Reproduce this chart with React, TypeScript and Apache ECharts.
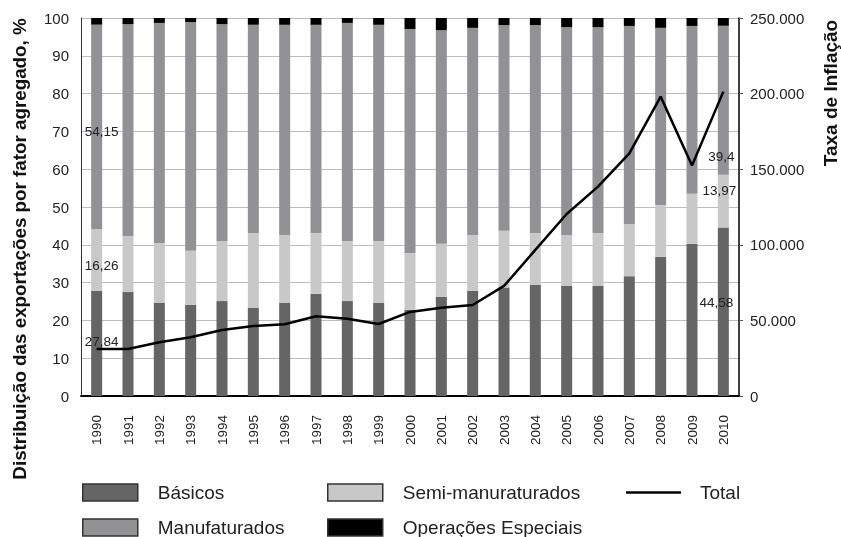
import React, { useEffect, useRef } from "react";
import * as echarts from "echarts";

const years = ["1990","1991","1992","1993","1994","1995","1996","1997","1998","1999","2000","2001","2002","2003","2004","2005","2006","2007","2008","2009","2010"];
const basicos = [27.84, 27.5, 24.6, 24.1, 25.1, 23.3, 24.6, 27.0, 25.1, 24.6, 22.8, 26.2, 27.8, 28.7, 29.4, 29.1, 29.1, 31.7, 36.8, 40.3, 44.58];
const semi = [16.26, 14.8, 15.9, 14.3, 15.9, 19.8, 18.0, 16.1, 15.9, 16.4, 15.0, 14.1, 14.8, 15.0, 13.7, 13.5, 14.0, 13.8, 13.7, 13.2, 13.97];
const manuf = [54.15, 56.1, 58.2, 60.5, 57.4, 55.1, 55.6, 55.1, 57.7, 57.2, 59.3, 56.5, 54.8, 54.4, 55.0, 55.0, 54.5, 52.4, 46.9, 44.4, 39.4];
const ops = [1.75, 1.6, 1.3, 1.1, 1.6, 1.8, 1.8, 1.8, 1.3, 1.8, 2.9, 3.2, 2.6, 1.9, 1.9, 2.4, 2.4, 2.1, 2.6, 2.1, 2.05];
const total = [31100, 31100, 35500, 38800, 43700, 46300, 47400, 52700, 51100, 47600, 55600, 58400, 60200, 72800, 96600, 120400, 138500, 160400, 198000, 152400, 201300];

const leftTicks = [0, 10, 20, 30, 40, 50, 60, 70, 80, 90, 100];
const rightTicks = ["0", "50.000", "100.000", "150.000", "200.000", "250.000"];

const FONT = "'Liberation Sans', Arial, sans-serif";
const TXT = "#222";

const fmt = (v: number) => String(v).replace(".", ",");

function withLabels(arr: number[], labels: Record<number, number[]>) {
  return arr.map((v, i) => {
    if (labels[i]) {
      return {
        value: v,
        label: {
          show: true,
          position: "inside",
          offset: labels[i],
          formatter: (p: any) => fmt(p.value),
          color: TXT,
          fontSize: 13.5,
          fontFamily: FONT,
        },
      };
    }
    return v;
  });
}

export default function App() {
  const ref = useRef<HTMLDivElement>(null);
  useEffect(() => {
    if (!ref.current) return;
    const chart = echarts.init(ref.current, null, { renderer: "svg" });
    const legendBase = {
      orient: "horizontal",
      padding: 0,
      itemWidth: 55,
      itemHeight: 17,
      icon: "rect",
      textStyle: { fontSize: 19, color: TXT, fontFamily: FONT, padding: [0, 0, 0, 15], lineHeight: 17 },
    };
    const boxStyle = { borderColor: "#333", borderWidth: 1.5 };
    chart.setOption({
      animation: false,
      textStyle: { fontFamily: FONT },
      grid: { left: 81, right: 102, top: 18, bottom: 141 },
      legend: [
        { ...legendBase, data: ["Básicos"], left: 82, top: 483, itemStyle: boxStyle },
        { ...legendBase, data: ["Semi-manuraturados"], left: 327, top: 483, itemStyle: boxStyle },
        {
          ...legendBase,
          data: ["Total"],
          left: 626,
          top: 483,
          itemHeight: 2.5,
          itemStyle: { color: "#000", borderWidth: 0 },
          lineStyle: { width: 0 },
          textStyle: { ...legendBase.textStyle, padding: [0, 0, 0, 14] },
        },
        { ...legendBase, data: ["Manufaturados"], left: 82, top: 518, itemStyle: boxStyle },
        { ...legendBase, data: ["Operações Especiais"], left: 327, top: 518, itemStyle: boxStyle },
      ],
      xAxis: {
        type: "category",
        data: years,
        axisLine: { lineStyle: { color: "#000", width: 2 } },
        axisTick: { show: false },
        axisLabel: { rotate: 90, fontSize: 13.5, color: TXT, margin: 19, fontFamily: FONT },
      },
      yAxis: [
        {
          type: "value",
          min: leftTicks[0],
          max: leftTicks[leftTicks.length - 1],
          interval: 10,
          axisLine: { show: true, lineStyle: { color: "#333", width: 1 } },
          axisTick: { show: false },
          axisLabel: { fontSize: 15, color: TXT, margin: 12, fontFamily: FONT },
          splitLine: { lineStyle: { color: "#bdbdbd", width: 1 } },
        },
        {
          type: "value",
          min: 0,
          max: 250000,
          interval: 50000,
          position: "right",
          axisLine: { show: true, lineStyle: { color: "#000", width: 1.5 } },
          axisTick: { show: true, length: 4, lineStyle: { color: "#555" } },
          axisLabel: {
            fontSize: 15,
            color: TXT,
            margin: 11,
            fontFamily: FONT,
            formatter: (v: number) => rightTicks[Math.round(v / 50000)],
          },
          splitLine: { show: false },
        },
      ],
      series: [
        {
          name: "Básicos",
          type: "bar",
          stack: "a",
          barWidth: 11,
          itemStyle: { color: "#656565" },
          data: withLabels(basicos, { 0: [5, -2], 20: [-7, -9] }),
        },
        {
          name: "Semi-manuraturados",
          type: "bar",
          stack: "a",
          barWidth: 11,
          itemStyle: { color: "#c8c8c9" },
          data: withLabels(semi, { 0: [5, 5], 20: [-4, -11] }),
        },
        {
          name: "Manufaturados",
          type: "bar",
          stack: "a",
          barWidth: 11,
          itemStyle: { color: "#929295" },
          data: withLabels(manuf, { 0: [5, 5], 20: [-2, 56] }),
        },
        {
          name: "Operações Especiais",
          type: "bar",
          stack: "a",
          barWidth: 11,
          itemStyle: { color: "#000" },
          data: ops,
        },
        {
          name: "Total",
          type: "line",
          yAxisIndex: 1,
          symbol: "none",
          z: 10,
          lineStyle: { color: "#000", width: 2.5 },
          itemStyle: { color: "#000" },
          data: total,
        },
      ],
      graphic: [
        {
          type: "text",
          x: 19.5,
          y: 249,
          rotation: Math.PI / 2,
          style: {
            text: "Distribuição das exportações por fator agregado, %",
            fontSize: 18.8,
            fontWeight: "bold",
            fontFamily: FONT,
            fill: "#111",
            align: "center",
            verticalAlign: "middle",
          },
        },
        {
          type: "text",
          x: 830.5,
          y: 93,
          rotation: Math.PI / 2,
          style: {
            text: "Taxa de Inflação",
            fontSize: 19,
            fontWeight: "bold",
            fontFamily: FONT,
            fill: "#111",
            align: "center",
            verticalAlign: "middle",
          },
        },
      ],
    });
    return () => chart.dispose();
  }, []);
  return <div ref={ref} style={{ position: "fixed", left: 0, top: 0, width: 841, height: 537 }} />;
}
